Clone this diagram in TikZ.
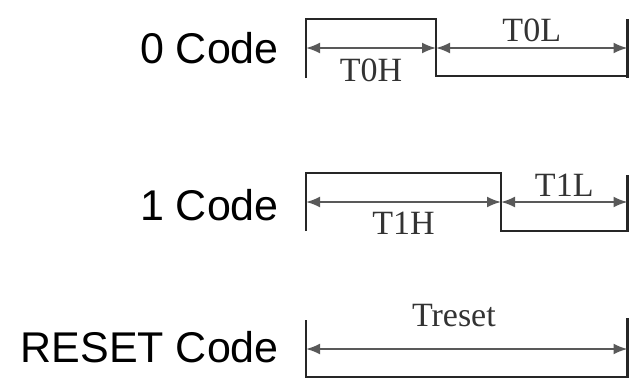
\documentclass[tikz,border=0pt]{standalone}
\usepackage{fontspec}
\setmainfont{Liberation Serif}
\newfontfamily\codefont{Liberation Sans}
\usetikzlibrary{arrows.meta}

\tikzset{
	wave/.style={line width=2.6pt, draw=black!85},
	span/.style={{Latex[length=14pt,width=11pt]}-{Latex[length=14pt,width=11pt]}, line width=2pt, draw=black!65},
	codelabel/.style={font=\codefont\fontsize{43}{43}\selectfont, anchor=base east, inner sep=0pt},
	timelabel/.style={font=\fontsize{34}{34}\selectfont, text=black!80, inner sep=0pt}
}

\begin{document}
\begin{tikzpicture}[x=1pt, y=-1pt]
			\useasboundingbox (0,0) rectangle (629,378);

			\node[codelabel] (code0) at (279, 63) {0 Code};
			\node[codelabel] (code1) at (279, 220) {1 Code};
			\node[codelabel] (codereset) at (279, 362) {RESET Code};

			% 0 code
			\draw[wave] (306,78) -- (306,19) -- (436,19) -- (436,76) -- (629,76);
			\draw[wave] (627.5,19) -- (627.5,78);
			\coordinate (a0) at (306,48);
			\coordinate (b0) at (436,48);
			\coordinate (c0) at (627.5,48);
			\draw[span](a0) -- (b0) node[timelabel, midway, below, yshift=-10pt] (t0h) { T0H };
			\draw[span](b0) -- (c0) node[timelabel, midway, above, yshift=5pt] (t0l) { T0L };

			% 1 code
			\draw[wave] (306,231) -- (306,173) -- (501,173) -- (501,231) -- (629,231);
			\draw[wave] (627.5,175) -- (627.5,231);
			\coordinate (a1) at (306,202);
			\coordinate (b1) at (501,202);
			\coordinate (c1) at (627.5,202);
			\draw[span](a1) -- (b1) node[timelabel, midway, below, yshift=-9pt] (t1h) { T1H };
			\draw[span](b1) -- (c1) node[timelabel, midway, above, yshift=5pt] (t1l) { T1L };

			% reset code
			\draw[wave] (306,320) -- (306,377) -- (629,377);
			\draw[wave] (627.5,318) -- (627.5,377);
			\coordinate (a2) at (306,349);
			\coordinate (c2) at (627.5,349);
			\draw[span](a2) -- (c2) node[timelabel, pos=0.46, above, yshift=21pt] (treset) { Treset };
		\end{tikzpicture}
\end{document}
